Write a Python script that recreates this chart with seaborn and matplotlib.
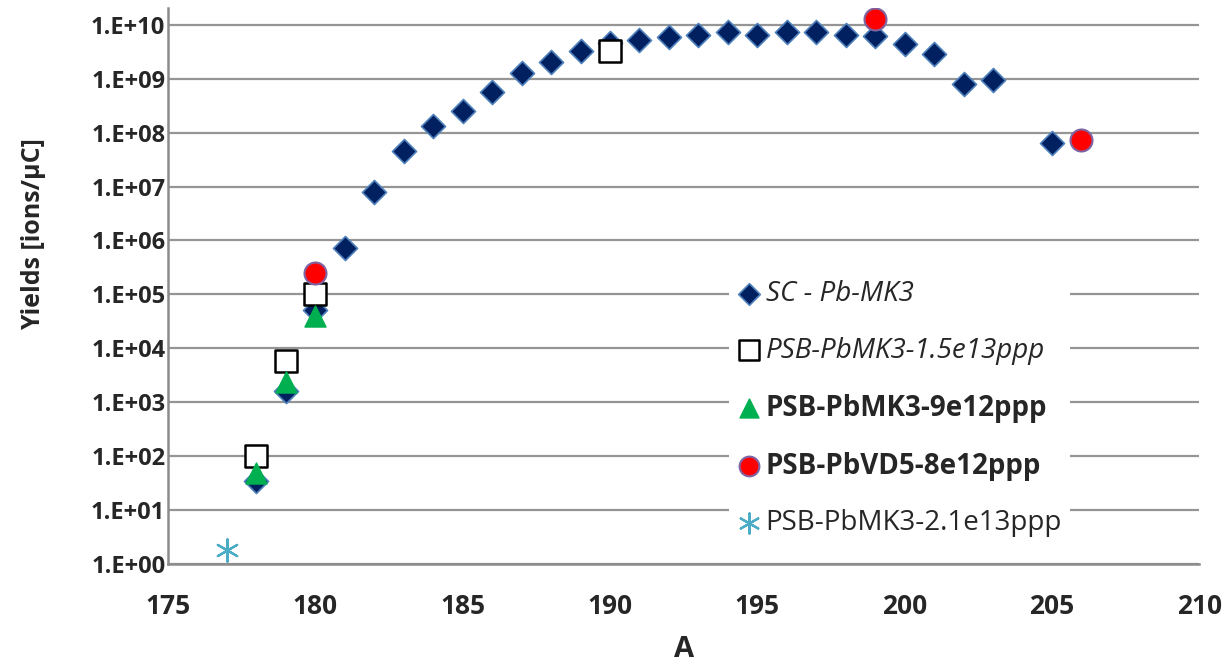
import matplotlib
matplotlib.use("Agg")
import matplotlib.pyplot as plt
import numpy as np
import pandas as pd
import seaborn as sns
from matplotlib.ticker import FixedLocator, MultipleLocator, FuncFormatter

# SC - Pb-MK3
sc_a = [178, 179, 180, 181, 182, 183, 184, 185, 186, 187, 188, 189, 190, 191,
        192, 193, 194, 195, 196, 197, 198, 199, 200, 201, 202, 203, 205]
sc_y = [3.4e1, 1.6e3, 5.2e4, 7.3e5, 7.8e6, 4.5e7, 1.3e8, 2.5e8, 5.6e8, 1.3e9,
        2.0e9, 3.3e9, 4.5e9, 5.1e9, 5.9e9, 6.5e9, 7.4e9, 6.5e9, 7.4e9, 7.4e9,
        6.5e9, 6.1e9, 4.3e9, 2.9e9, 8.0e8, 9.5e8, 6.4e7]
# PSB-PbMK3-1.5e13ppp
sq_a = [178, 179, 180, 190]
sq_y = [1.0e2, 5.9e3, 1.0e5, 3.3e9]
# PSB-PbMK3-9e12ppp
tri_a = [178, 179, 180]
tri_y = [4.9e1, 2.4e3, 3.9e4]
# PSB-PbVD5-8e12ppp
vd_a = [180, 199, 206]
vd_y = [2.5e5, 1.26e10, 7.4e7]
# PSB-PbMK3-2.1e13ppp
st_a = [177]
st_y = [1.8]

labels = ["SC - Pb-MK3", "PSB-PbMK3-1.5e13ppp", "PSB-PbMK3-9e12ppp",
          "PSB-PbVD5-8e12ppp", "PSB-PbMK3-2.1e13ppp"]

sns.set_style("white")
plt.rcParams["font.family"] = ["Open Sans", "DejaVu Sans"]

fig = plt.figure(figsize=(12.3, 6.67), dpi=100)
ax = fig.add_axes([0.1366, 0.1544, 0.8384, 0.8336])

series = [
    (sc_a, sc_y, "D", "#002060", "#4F81BD", 1.2, 150),
    (sq_a, sq_y, "s", "white", "black", 1.8, 260),
    (tri_a, tri_y, "^", "#00B050", "#00B050", 1.0, 230),
    (vd_a, vd_y, "o", "#FF0000", "#8064A2", 1.5, 250),
    (st_a, st_y, (6, 2, 0), "#4BACC6", "#4BACC6", 1.6, 260),
]
for (xa, ya, mk, fc, ec, lw, s), lab in zip(series, labels):
    df = pd.DataFrame({"A": xa, "Y": ya})
    sns.scatterplot(data=df, x="A", y="Y", marker=mk, color=fc, edgecolor=ec,
                    linewidth=lw, s=s, ax=ax, label=lab, zorder=3)

ax.set_yscale("log")
ax.set_ylim(1, 10 ** 10.31)
ax.set_xlim(175, 210)
ax.yaxis.set_major_locator(FixedLocator([10.0 ** k for k in range(11)]))
ax.yaxis.set_minor_locator(FixedLocator([]))
ax.yaxis.set_major_formatter(FuncFormatter(lambda v, p: "1.E+%02d" % round(np.log10(v))))
ax.xaxis.set_major_locator(MultipleLocator(5))
ax.xaxis.set_minor_locator(MultipleLocator(1))

ax.grid(axis="y", color="#959595", linewidth=1.6)
ax.grid(axis="x", visible=False)
ax.set_axisbelow(True)
for side in ["top", "right"]:
    ax.spines[side].set_visible(False)
for side in ["left", "bottom"]:
    ax.spines[side].set_color("#8c8c8c")
    ax.spines[side].set_linewidth(1.8)

ax.tick_params(axis="y", length=0, pad=2, labelsize=17)
ax.tick_params(axis="x", which="both", direction="in", length=7, width=1.2,
               color="#8c8c8c", pad=21, labelsize=19)
for t in ax.get_yticklabels():
    t.set_fontweight("bold")
for t in ax.get_xticklabels():
    t.set_fontweight("bold")

ax.set_xlabel("A", fontsize=21, fontweight="bold")
ax.xaxis.set_label_coords(0.5, -0.127)
ax.set_ylabel("Yields [ions/\u03bcC]", fontsize=18, fontweight="bold")
ax.yaxis.set_label_coords(-0.118, 0.594)

leg = ax.legend(loc="upper left", bbox_to_anchor=(0.531, 0.551), frameon=True,
                facecolor="white", edgecolor="none", framealpha=1,
                fontsize=20, labelspacing=1.04, handletextpad=0.2,
                handlelength=0.8, borderpad=0.3, markerscale=0.9)
styles = [("italic", "normal"), ("italic", "normal"), ("normal", "bold"),
          ("normal", "bold"), ("normal", "normal")]
for t, (st, wt) in zip(leg.get_texts(), styles):
    t.set_fontstyle(st)
    t.set_fontweight(wt)

fig.savefig("out.png", dpi=100)
